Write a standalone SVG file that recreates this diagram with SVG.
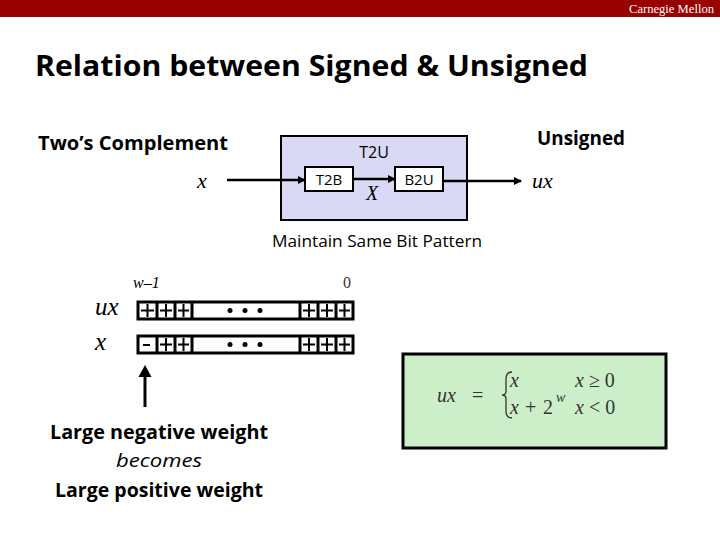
<svg xmlns="http://www.w3.org/2000/svg" width="720" height="540" viewBox="0 0 720 540">
<style>
.sans{font-family:"Open Sans","Liberation Sans",sans-serif;}
.b{font-weight:bold;}
.m{font-family:"Liberation Serif","DejaVu Serif",serif;font-style:italic;}
.box{stroke:#000;stroke-width:2;}
.cell{fill:#fff;stroke:#000;stroke-width:3;}
.ln{stroke:#000;stroke-width:3;fill:none;}
.eq{font-family:"Liberation Serif","DejaVu Serif",serif;fill:#333;}
</style>
<defs>
<marker id="ah" markerWidth="8" markerHeight="8" refX="7" refY="4" orient="auto" markerUnits="userSpaceOnUse">
<path d="M0,0 L8,4 L0,8 Z" fill="#000"/>
</marker>
</defs>
<rect width="720" height="540" fill="#fff"/>
<rect x="0" y="0" width="720" height="17" fill="#990000"/>
<text x="714" y="13" text-anchor="end" font-family="Liberation Serif,serif" font-size="12" fill="#fff" textLength="85" lengthAdjust="spacingAndGlyphs">Carnegie Mellon</text>
<text class="sans b" x="35" y="76" font-size="29" textLength="553" lengthAdjust="spacingAndGlyphs">Relation between Signed &amp; Unsigned</text>

<g id="labels">
<text class="sans b" x="38" y="150" font-size="19" textLength="190" lengthAdjust="spacingAndGlyphs">Two’s Complement</text>
<text class="m" x="197" y="188" font-size="22">x</text>
<text class="sans b" x="537" y="145" font-size="19" textLength="88" lengthAdjust="spacingAndGlyphs">Unsigned</text>
<text class="m" x="532" y="188" font-size="22">ux</text>
<text class="sans" x="377" y="247" font-size="16" text-anchor="middle" textLength="210" lengthAdjust="spacingAndGlyphs">Maintain Same Bit Pattern</text>
</g>

<g id="T2U">
<rect x="281" y="136" width="186" height="84" fill="#d9d9f5" class="box"/>
<text class="sans" x="374" y="158" font-size="16" text-anchor="middle">T2U</text>
</g>
<g id="T2B">
<rect x="305" y="167" width="48" height="24" fill="#fff" class="box"/>
<text class="sans" x="329" y="185" font-size="15" text-anchor="middle">T2B</text>
</g>
<g id="B2U">
<rect x="395" y="167" width="48" height="24" fill="#fff" class="box"/>
<text class="sans" x="419" y="185" font-size="15" text-anchor="middle">B2U</text>
</g>
<text class="m" x="366" y="200" font-size="20">X</text>

<g id="connectors">
<line x1="227" y1="180" x2="305" y2="180" stroke="#000" stroke-width="2.5" marker-end="url(#ah)"/>
<line x1="353" y1="179" x2="395" y2="179" stroke="#000" stroke-width="2.5" marker-end="url(#ah)"/>
<line x1="443" y1="181" x2="521" y2="181" stroke="#000" stroke-width="2.5" marker-end="url(#ah)"/>
<line x1="145" y1="407" x2="145" y2="376" stroke="#000" stroke-width="3"/>
<path d="M138.5,377 L145,365 L151.5,377 Z" fill="#000"/>
</g>

<g id="bits">
<text class="m" x="133" y="288" font-size="16">w–1</text>
<text class="eq" x="343" y="288" font-size="16" fill="#000">0</text>
<text class="m" x="95" y="315" font-size="25">ux</text>
<text class="m" x="95" y="350" font-size="25">x</text>
<g id="ux-row">
<rect x="138" y="302" width="215" height="17" class="cell"/>
<path class="ln" d="M157,302V319M175,302V319M192,302V319M300,302V319M318,302V319M336,302V319"/>
<path stroke="#000" stroke-width="2" d="M141,310.5h13M147.5,304v13M160,310.5h12M166,304v13M178,310.5h11M183.5,304v13M303,310.5h12M309,304v13M321,310.5h12M327,304v13M339,310.5h11M344.5,304v13"/>
<circle cx="230" cy="310.5" r="2.5"/><circle cx="245" cy="310.5" r="2.5"/><circle cx="260" cy="310.5" r="2.5"/>
</g>
<g id="x-row">
<rect x="138" y="336" width="215" height="17" class="cell"/>
<path class="ln" d="M157,336V353M175,336V353M192,336V353M300,336V353M318,336V353M336,336V353"/>
<path stroke="#000" stroke-width="2" d="M143,345h7M160,344.5h12M166,338v13M178,344.5h11M183.5,338v13M303,344.5h12M309,338v13M321,344.5h12M327,338v13M339,344.5h11M344.5,338v13"/>
<circle cx="230" cy="344.5" r="2.5"/><circle cx="245" cy="344.5" r="2.5"/><circle cx="260" cy="344.5" r="2.5"/>
</g>
</g>

<g id="caption">
<text class="sans b" x="159" y="439" font-size="19" text-anchor="middle" textLength="218" lengthAdjust="spacingAndGlyphs">Large negative weight</text>
<text class="sans" x="159" y="467" font-size="19" font-style="italic" text-anchor="middle" textLength="86" lengthAdjust="spacingAndGlyphs">becomes</text>
<text class="sans b" x="159" y="497" font-size="19" text-anchor="middle" textLength="208" lengthAdjust="spacingAndGlyphs">Large positive weight</text>
</g>

<g id="formula">
<rect x="403" y="354" width="263" height="94" fill="#ccefc9" stroke="#000" stroke-width="3"/>
<text class="eq" x="437" y="402" font-size="20" font-style="italic">ux</text>
<text class="eq" x="472" y="402" font-size="20">=</text>
<path d="M512,372 Q506,372 506,379 L506,391 Q506,395 502,395 Q506,395 506,399 L506,411 Q506,418 512,418" fill="none" stroke="#333" stroke-width="1.3"/>
<text class="eq" x="510" y="387" font-size="20" font-style="italic">x</text>
<text class="eq" x="575" y="387" font-size="20"><tspan font-style="italic">x</tspan> ≥ 0</text>
<text class="eq" x="510" y="414" font-size="20" font-style="italic">x</text>
<text class="eq" x="525" y="414" font-size="20">+</text>
<text class="eq" x="543" y="414" font-size="20">2</text>
<text class="eq" x="556" y="402" font-size="14" font-style="italic">w</text>
<text class="eq" x="575" y="414" font-size="20"><tspan font-style="italic">x</tspan> &lt; 0</text>
</g>
</svg>
